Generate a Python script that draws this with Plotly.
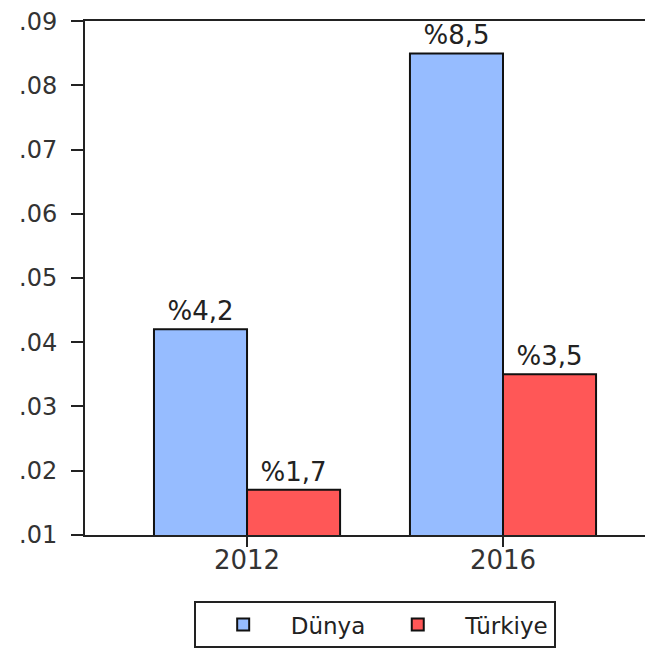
import plotly.graph_objects as go

years = ["2012", "2016"]
dunya = [0.042, 0.085]
turkiye = [0.017, 0.035]
dunya_labels = ["%4,2", "%8,5"]
turkiye_labels = ["%1,7", "%3,5"]
y_ticks = [0.01, 0.02, 0.03, 0.04, 0.05, 0.06, 0.07, 0.08, 0.09]
y_tick_text = [".01", ".02", ".03", ".04", ".05", ".06", ".07", ".08", ".09"]

label_font = dict(family="DejaVu Sans", size=26, color="#222")

fig = go.Figure()
fig.add_trace(go.Bar(
    x=years, y=dunya, name="Dünya",
    text=dunya_labels, textposition="outside", textfont=label_font,
    marker=dict(color="#96BCFF", line=dict(color="#111", width=2)),
    cliponaxis=False,
))
fig.add_trace(go.Bar(
    x=years, y=turkiye, name="Türkiye",
    text=turkiye_labels, textposition="outside", textfont=label_font,
    marker=dict(color="#FF5757", line=dict(color="#111", width=2)),
    cliponaxis=False,
))

# page body adds an 8px margin, so the figure is sized to fit the window
fig.update_layout(
    width=645, height=643,
    margin=dict(l=77, r=0, t=13, b=116, autoexpand=False),
    paper_bgcolor="white", plot_bgcolor="white",
    barmode="group", bargap=0.273, bargroupgap=0,
    font=dict(family="DejaVu Sans", size=26, color="#333"),
    showlegend=True,
    legend=dict(
        orientation="h", x=0.51, xanchor="center", y=-0.22, yanchor="bottom",
        bordercolor="#222", borderwidth=2, font=dict(size=23, color="#222"),
        traceorder="normal", itemwidth=85, tracegroupgap=0,
    ),
    xaxis=dict(
        range=[-0.633, 1.586], showline=True, linecolor="#222", linewidth=2,
        mirror=True, ticks="outside", ticklen=10, tickcolor="#222", tickwidth=2,
        ticklabelstandoff=-9,
        showgrid=False, zeroline=False, automargin=False,
    ),
    yaxis=dict(
        range=[0.00995, 0.09005], tickvals=y_ticks, ticktext=y_tick_text,
        showline=True, linecolor="#222", linewidth=2,
        ticks="outside", ticklen=12, tickcolor="#222", tickwidth=2,
        tickfont=dict(size=24), ticklabelstandoff=9, ticklabeloverflow="allow",
        showgrid=False, zeroline=False, automargin=False,
    ),
)

fig.write_html("out.html")
